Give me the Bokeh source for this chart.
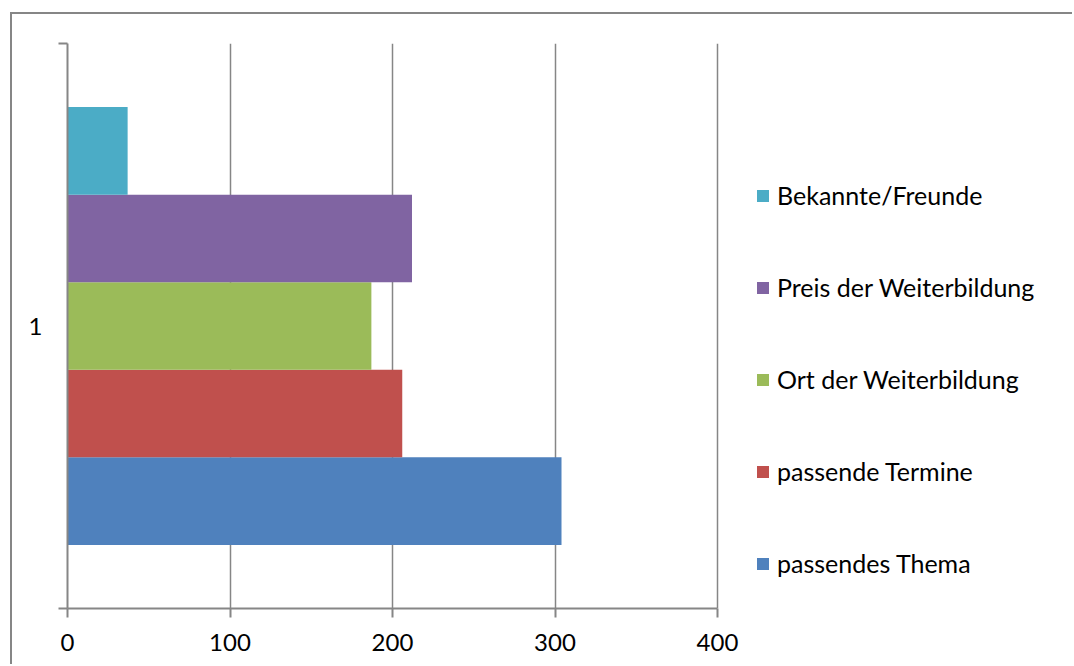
from bokeh.plotting import figure
from bokeh.models import Range1d, FixedTicker, Legend, LegendItem
from bokeh.embed import file_html
from bokeh.resources import INLINE

# ---- data ----
categories = ["1"]
series = ["passendes Thema", "passende Termine", "Ort der Weiterbildung",
          "Preis der Weiterbildung", "Bekannte/Freunde"]
values = [304, 206, 187, 212, 37]
colors = ["#4F81BD", "#C0504D", "#9BBB59", "#8064A2", "#4BACC6"]
x_ticks = [0, 100, 200, 300, 400]

FONT = "Lato"
GRAY = "#868686"

# frame spans to the right edge so the legend (inside frame) is not clipped;
# x scale: 400 units over 650 px
W, H = 1062, 652
ML, MT, MB = 55, 29, 58
x_end = (W - ML) * 400 / 650.0

p = figure(width=W, height=H, output_backend="svg", toolbar_location=None,
           x_range=Range1d(0, x_end), y_range=Range1d(0, 1),
           min_border_left=ML, min_border_right=0, min_border_top=MT,
           min_border_bottom=MB,
           margin=(12, 0, 0, 10),
           styles={"border-top": "2px solid #868686",
                   "border-left": "2px solid #868686"})
p.outline_line_color = None
p.background_fill_color = "white"
p.border_fill_color = "white"

# bars
step = 0.155
n = len(series)
renderers = []
for i, (name, v, c) in enumerate(zip(series, values, colors)):
    yc = 0.5 + (i - (n - 1) / 2) * step
    r = p.hbar(y=[yc], right=[v], left=0, height=step, fill_color=c, line_color=None)
    renderers.append((name, r))

# x axis
xa = p.xaxis[0]
xa.ticker = FixedTicker(ticks=x_ticks, minor_ticks=[])
xa.bounds = (x_ticks[0], x_ticks[-1])
xa.axis_line_color = GRAY
xa.axis_line_width = 2
xa.major_tick_line_color = GRAY
xa.major_tick_line_width = 2
xa.major_tick_out = 9
xa.major_tick_in = 0
xa.minor_tick_line_color = None
xa.major_label_text_font = FONT
xa.major_label_text_font_size = "24px"
xa.major_label_text_color = "black"
xa.major_label_standoff = 16

# y axis: label "1" centered, ticks between categories
ya = p.yaxis[0]
ya.ticker = FixedTicker(ticks=[0.5], minor_ticks=[0, 1])
ya.major_label_overrides = {0.5: categories[0]}
ya.axis_line_color = GRAY
ya.axis_line_width = 2
ya.major_tick_line_color = None
ya.major_tick_out = 0
ya.major_tick_in = 0
ya.minor_tick_line_color = GRAY
ya.minor_tick_line_width = 2
ya.minor_tick_out = 9
ya.minor_tick_in = 0
ya.major_label_text_font = FONT
ya.major_label_text_font_size = "24px"
ya.major_label_text_color = "black"
ya.major_label_standoff = 16

# grid
p.xgrid.ticker = FixedTicker(ticks=x_ticks)
p.xgrid.grid_line_color = GRAY
p.xgrid.grid_line_width = 1.5
p.ygrid.grid_line_color = None

# legend (reverse order, top = last series)
items = [LegendItem(label=name, renderers=[r]) for name, r in reversed(renderers)]
legend = Legend(items=items, location=(688, 30), orientation="vertical",
                padding=0, margin=0, border_line_color=None,
                background_fill_alpha=0,
                glyph_width=15, glyph_height=15, label_height=30,
                spacing=62, label_standoff=7,
                label_text_font=FONT, label_text_font_size="25px",
                label_text_color="black")
p.add_layout(legend, "center")

open("out.html", "w").write(file_html(p, INLINE))
